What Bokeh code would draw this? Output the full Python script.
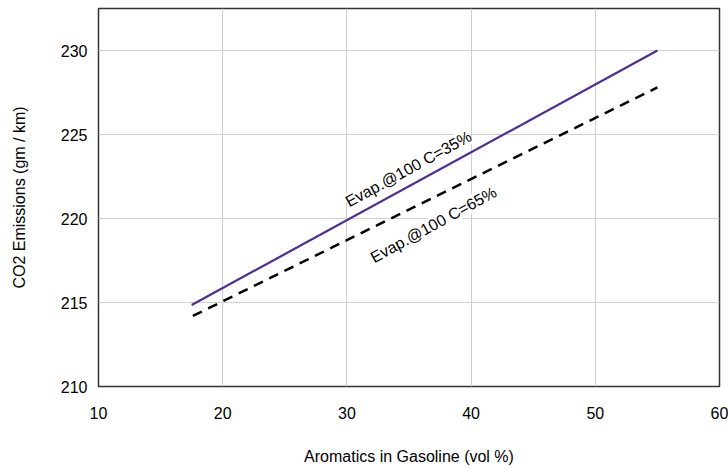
from bokeh.plotting import figure
from bokeh.models import Label, Range1d, FixedTicker
from bokeh.embed import file_html
from bokeh.resources import INLINE

# data
aromatics_35 = [17.5, 55]
co2_35 = [214.85, 230.0]
aromatics_65 = [17.6, 55]
co2_65 = [214.2, 227.8]
x_ticks = [10, 20, 30, 40, 50, 60]
y_ticks = [210, 215, 220, 225, 230]
label_35 = "Evap.@100 C=35%"
label_65 = "Evap.@100 C=65%"

FONT = "Liberation Sans"

p = figure(width=728, height=468, output_backend="svg", toolbar_location=None,
           x_range=Range1d(10, 60), y_range=Range1d(210, 232.5),
           min_border_left=98, min_border_right=9, min_border_top=8, min_border_bottom=82)

p.line(aromatics_35, co2_35, line_color="#4f2d97", line_width=2.2)
p.line(aromatics_65, co2_65, line_color="black", line_width=2.5, line_dash="10 7")

p.xaxis.ticker = FixedTicker(ticks=x_ticks)
p.yaxis.ticker = FixedTicker(ticks=y_ticks)
p.xaxis.axis_label = "Aromatics in Gasoline (vol %)"
p.yaxis.axis_label = "CO2 Emissions (gm / km)"

for ax in (p.xaxis[0], p.yaxis[0]):
    ax.axis_line_color = None
    ax.major_tick_line_color = None
    ax.minor_tick_line_color = None
    ax.major_tick_out = 0
    ax.major_tick_in = 0
    ax.minor_tick_out = 0
    ax.minor_tick_in = 0
    ax.major_label_text_font = FONT
    ax.major_label_text_font_size = "16px"
    ax.major_label_text_color = "black"
    ax.axis_label_text_font = FONT
    ax.axis_label_text_font_size = "16px"
    ax.axis_label_text_font_style = "normal"
    ax.axis_label_text_color = "black"

p.xaxis.major_label_standoff = 20
p.xaxis.axis_label_standoff = 26
p.yaxis.major_label_standoff = 11
p.yaxis.axis_label_standoff = 30

p.grid.grid_line_color = "#d0d0d0"
p.grid.grid_line_width = 1
p.outline_line_color = "#333333"
p.outline_line_width = 1.5
p.background_fill_color = "white"
p.border_fill_color = "white"

l1 = Label(x=34.96, y=222.95, text=label_35, angle=0.5, text_align="center",
           text_baseline="middle", text_font=FONT, text_font_size="16px",
           text_color="black", background_fill_color="white")
l2 = Label(x=36.97, y=219.63, text=label_65, angle=0.5, text_align="center",
           text_baseline="middle", text_font=FONT, text_font_size="16px",
           text_color="black", background_fill_color="white")
p.add_layout(l1)
p.add_layout(l2)

open("out.html", "w").write(file_html(p, INLINE))
